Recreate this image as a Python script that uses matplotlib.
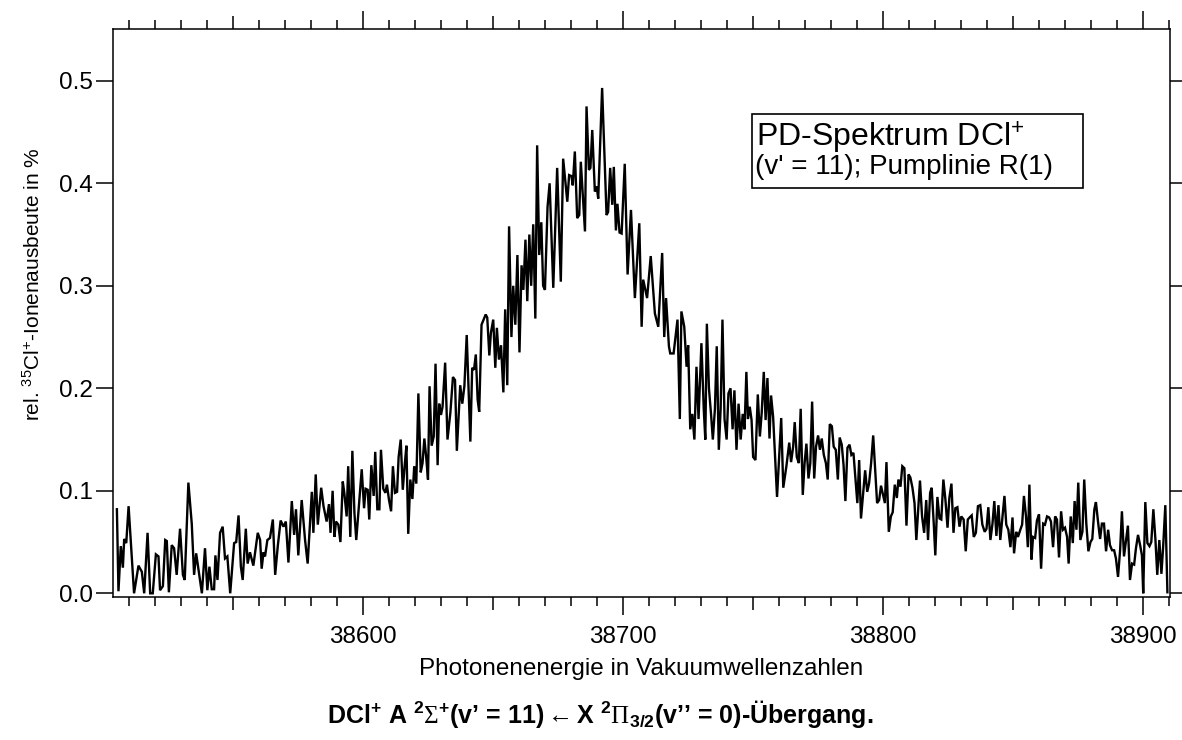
import matplotlib
matplotlib.use("Agg")
import matplotlib.pyplot as plt
from matplotlib.patches import Rectangle
from matplotlib.ticker import FixedLocator

plt.rcParams['font.family'] = ['Liberation Sans', 'DejaVu Sans']
plt.rcParams['mathtext.fontset'] = 'custom'
plt.rcParams['mathtext.rm'] = 'Liberation Sans'
plt.rcParams['mathtext.it'] = 'Liberation Sans:italic'
plt.rcParams['mathtext.bf'] = 'Liberation Sans:bold'
plt.rcParams['mathtext.sf'] = 'Liberation Serif'

# Photodissociation spectrum: (wavenumber in cm^-1, relative 35Cl+ ion yield in %)
wing_low = [
    (38505.2, 0.082), (38505.8, 0.002), (38506.7, 0.046), (38507.5, 0.025), (38508.0, 0.053),
    (38508.8, 0.049), (38509.7, 0.085), (38511.8, 0.000), (38513.5, 0.027), (38514.8, 0.021),
    (38515.7, 0.000), (38517.0, 0.059), (38518.0, 0.000), (38519.0, 0.000), (38520.2, 0.038),
    (38521.2, 0.036), (38521.8, 0.003), (38522.9, 0.007), (38523.8, 0.052), (38524.4, 0.051),
    (38525.2, 0.001), (38526.3, 0.047), (38527.2, 0.044), (38528.2, 0.018), (38529.5, 0.063),
    (38530.6, 0.018), (38531.3, 0.013), (38532.7, 0.108), (38534.0, 0.068), (38534.9, 0.018),
    (38535.7, 0.039), (38536.6, 0.023), (38537.9, 0.000), (38539.1, 0.044), (38540.0, 0.003),
    (38540.8, 0.026), (38541.7, 0.004), (38542.6, 0.004), (38543.1, 0.037), (38543.9, 0.013),
    (38544.9, 0.059), (38545.9, 0.065), (38546.8, 0.034), (38547.7, 0.036), (38548.8, 0.000),
    (38550.3, 0.049), (38551.1, 0.050), (38552.0, 0.076), (38552.9, 0.026), (38553.6, 0.013),
    (38554.8, 0.063), (38555.5, 0.029), (38556.4, 0.040), (38557.7, 0.027), (38559.4, 0.059),
    (38560.3, 0.052), (38560.9, 0.024), (38561.6, 0.040), (38562.2, 0.036), (38563.1, 0.052),
    (38564.1, 0.054), (38565.2, 0.072), (38566.1, 0.018), (38567.1, 0.046), (38568.2, 0.071),
    (38569.3, 0.065), (38570.2, 0.070), (38571.2, 0.030), (38572.5, 0.090), (38573.4, 0.057),
    (38574.1, 0.082), (38575.0, 0.037), (38576.3, 0.091), (38577.6, 0.052), (38578.6, 0.029),
    (38580.2, 0.099), (38580.8, 0.059), (38581.7, 0.116), (38582.5, 0.067), (38583.8, 0.103),
    (38584.7, 0.085), (38585.9, 0.070),
]

rise = [
    (38586.8, 0.087), (38587.4, 0.059), (38588.2, 0.100), (38588.9, 0.055), (38589.5, 0.070),
    (38590.4, 0.067), (38591.2, 0.050), (38592.1, 0.109), (38592.7, 0.098), (38593.6, 0.075),
    (38594.2, 0.124), (38595.0, 0.055), (38595.8, 0.139), (38596.6, 0.078), (38597.3, 0.052),
    (38599.4, 0.121), (38600.3, 0.083), (38600.9, 0.102), (38601.7, 0.101), (38602.3, 0.072),
    (38603.1, 0.125), (38604.0, 0.095), (38604.6, 0.138), (38605.4, 0.082), (38606.2, 0.082),
    (38606.8, 0.140), (38607.7, 0.102), (38608.5, 0.098), (38609.1, 0.106), (38609.9, 0.091),
    (38610.7, 0.080), (38611.4, 0.124), (38612.2, 0.098), (38613.0, 0.099), (38613.6, 0.133),
    (38614.4, 0.150), (38615.2, 0.101), (38615.9, 0.124), (38616.6, 0.144), (38617.3, 0.058),
    (38618.1, 0.111), (38618.9, 0.092), (38619.6, 0.124), (38620.4, 0.107), (38621.2, 0.195),
    (38622.1, 0.118), (38622.8, 0.127), (38623.5, 0.151), (38624.2, 0.133), (38624.9, 0.111),
    (38625.5, 0.202), (38626.3, 0.144), (38627.1, 0.153), (38627.8, 0.224), (38628.6, 0.125),
    (38629.2, 0.185), (38629.9, 0.174), (38630.5, 0.182), (38631.5, 0.225), (38632.4, 0.150),
    (38633.5, 0.176), (38634.5, 0.211), (38635.3, 0.208), (38636.0, 0.139), (38637.3, 0.203),
    (38638.1, 0.185), (38638.9, 0.202), (38639.8, 0.252), (38641.2, 0.148), (38641.9, 0.220),
    (38642.6, 0.218), (38643.3, 0.233), (38644.0, 0.189), (38644.6, 0.177), (38645.5, 0.262),
    (38647.1, 0.272), (38647.7, 0.269), (38648.5, 0.232), (38649.1, 0.254), (38650.0, 0.267),
    (38650.8, 0.220), (38651.4, 0.259), (38652.2, 0.228), (38653.0, 0.242), (38653.9, 0.196),
    (38654.6, 0.277), (38655.4, 0.203),
    (38656.1, 0.358), (38657.0, 0.250), (38657.7, 0.300), (38658.5, 0.262), (38659.3, 0.330),
    (38660.1, 0.235), (38660.9, 0.320), (38661.6, 0.296), (38662.4, 0.345), (38663.1, 0.285),
    (38663.9, 0.350), (38664.6, 0.300), (38665.4, 0.360), (38666.2, 0.268), (38666.9, 0.437),
    (38667.7, 0.330), (38668.5, 0.362), (38669.2, 0.300),
]

peak = [
    (38669.9, 0.296), (38670.9, 0.377), (38671.7, 0.400), (38673.1, 0.298), (38674.6, 0.415),
    (38676.0, 0.304), (38676.9, 0.424), (38678.5, 0.382), (38679.2, 0.408), (38680.1, 0.407),
    (38680.6, 0.398), (38681.4, 0.431), (38682.3, 0.366), (38683.1, 0.369), (38683.7, 0.421),
    (38685.3, 0.353), (38685.9, 0.475), (38686.8, 0.413), (38687.4, 0.415), (38688.1, 0.452),
    (38689.1, 0.392), (38689.8, 0.397), (38690.4, 0.385), (38691.9, 0.493), (38693.6, 0.369),
    (38694.2, 0.372), (38695.0, 0.415), (38695.8, 0.379), (38696.4, 0.416), (38697.2, 0.354),
    (38697.8, 0.380), (38698.6, 0.352), (38699.4, 0.351), (38700.6, 0.419), (38701.7, 0.311),
    (38703.0, 0.374), (38704.5, 0.288), (38706.2, 0.361), (38707.1, 0.260), (38707.7, 0.306),
    (38709.2, 0.288), (38710.6, 0.329), (38712.2, 0.273), (38713.5, 0.260), (38715.0, 0.332),
    (38715.8, 0.250), (38716.5, 0.288), (38717.6, 0.241), (38718.1, 0.234), (38719.4, 0.234),
    (38720.9, 0.267),
]

fall = [
    (38721.8, 0.170), (38722.4, 0.275), (38723.5, 0.260), (38724.4, 0.221), (38725.0, 0.242),
    (38725.8, 0.160), (38726.6, 0.175), (38727.4, 0.150), (38728.2, 0.221), (38729.0, 0.170),
    (38730.1, 0.244), (38731.0, 0.180), (38731.6, 0.150), (38732.2, 0.263), (38733.0, 0.200),
    (38733.8, 0.175), (38734.5, 0.150), (38735.3, 0.180), (38736.0, 0.241), (38736.8, 0.140),
    (38737.5, 0.180), (38738.2, 0.267), (38739.0, 0.170), (38739.8, 0.150), (38740.5, 0.195),
    (38741.3, 0.200), (38742.1, 0.160), (38742.8, 0.198), (38743.6, 0.140), (38744.4, 0.185),
    (38745.2, 0.150), (38746.0, 0.175), (38746.7, 0.160), (38747.4, 0.216), (38748.0, 0.170),
    (38748.7, 0.182), (38749.4, 0.169), (38750.0, 0.133), (38750.9, 0.130), (38751.8, 0.194),
    (38752.6, 0.153), (38753.3, 0.176), (38754.1, 0.216), (38754.8, 0.169), (38755.5, 0.210),
    (38756.3, 0.151), (38756.9, 0.193), (38757.7, 0.172), (38758.5, 0.130), (38759.2, 0.094),
    (38760.8, 0.171), (38761.6, 0.103), (38762.8, 0.124), (38763.9, 0.147), (38764.6, 0.128),
    (38765.4, 0.143), (38766.0, 0.167), (38766.8, 0.133), (38767.6, 0.127), (38768.3, 0.180),
    (38769.1, 0.096), (38769.8, 0.127), (38770.5, 0.146), (38771.3, 0.112), (38772.0, 0.127),
    (38772.7, 0.187), (38773.5, 0.112), (38774.2, 0.143), (38775.0, 0.154), (38775.7, 0.140),
    (38776.4, 0.151), (38777.2, 0.135), (38778.0, 0.127), (38778.7, 0.111), (38779.5, 0.165),
    (38780.3, 0.163), (38781.0, 0.143), (38781.8, 0.140), (38782.6, 0.111), (38783.3, 0.152),
    (38784.1, 0.145), (38784.8, 0.125), (38785.5, 0.090), (38786.3, 0.142), (38787.1, 0.145),
    (38787.8, 0.135), (38788.6, 0.137), (38789.4, 0.111), (38790.1, 0.088), (38790.8, 0.130),
    (38791.5, 0.073), (38792.3, 0.096), (38793.1, 0.120), (38793.9, 0.099), (38794.6, 0.107),
    (38795.4, 0.127), (38796.2, 0.154), (38796.9, 0.124), (38797.7, 0.088), (38798.5, 0.091),
    (38799.2, 0.105), (38800.0, 0.096), (38800.7, 0.088), (38801.3, 0.128), (38802.2, 0.060),
    (38803.0, 0.075), (38803.7, 0.079), (38804.5, 0.106), (38805.3, 0.093), (38805.9, 0.111),
    (38806.7, 0.104), (38807.4, 0.124), (38808.2, 0.122), (38809.0, 0.066), (38809.8, 0.116),
    (38810.5, 0.113), (38811.3, 0.103), (38812.1, 0.088), (38812.8, 0.052), (38813.5, 0.081),
    (38814.2, 0.110), (38815.0, 0.075), (38815.8, 0.059), (38816.6, 0.091), (38817.3, 0.052),
    (38818.1, 0.098), (38818.7, 0.103), (38819.5, 0.068), (38820.1, 0.037), (38820.9, 0.094),
    (38821.7, 0.073), (38822.4, 0.072), (38823.2, 0.111), (38824.0, 0.091), (38824.8, 0.064),
    (38825.5, 0.093), (38826.3, 0.107), (38827.1, 0.059), (38827.8, 0.083), (38828.6, 0.084),
    (38829.4, 0.065),
]

wing_high = [
    (38830.1, 0.075), (38831.0, 0.072), (38831.8, 0.041), (38832.6, 0.072), (38833.3, 0.074),
    (38834.1, 0.076), (38834.9, 0.055), (38835.7, 0.059), (38836.5, 0.085), (38837.4, 0.086),
    (38838.2, 0.067), (38839.1, 0.060), (38839.8, 0.063), (38840.5, 0.084), (38841.3, 0.052),
    (38842.1, 0.068), (38842.8, 0.090), (38843.6, 0.056), (38844.4, 0.086), (38845.1, 0.052),
    (38845.9, 0.074), (38846.7, 0.095), (38847.4, 0.067), (38848.2, 0.062), (38849.0, 0.045),
    (38849.8, 0.074), (38850.4, 0.039), (38851.2, 0.060), (38851.9, 0.055), (38852.8, 0.062),
    (38853.5, 0.067), (38854.2, 0.095), (38855.0, 0.075), (38855.7, 0.045), (38856.3, 0.106),
    (38857.1, 0.033), (38857.7, 0.055), (38858.5, 0.054), (38859.2, 0.071), (38860.0, 0.077),
    (38860.8, 0.024), (38861.6, 0.068), (38862.3, 0.067), (38863.1, 0.075), (38863.9, 0.074),
    (38864.6, 0.070), (38865.4, 0.045), (38866.2, 0.075), (38866.9, 0.072), (38867.7, 0.035),
    (38868.5, 0.080), (38869.2, 0.062), (38870.0, 0.064), (38870.8, 0.055), (38871.4, 0.029),
    (38872.2, 0.075), (38873.0, 0.049), (38873.7, 0.090), (38874.4, 0.062), (38875.1, 0.108),
    (38875.9, 0.052), (38876.7, 0.060), (38877.4, 0.111), (38878.2, 0.068), (38879.0, 0.041),
    (38879.8, 0.050), (38880.5, 0.053), (38881.3, 0.082), (38881.9, 0.089), (38882.7, 0.070),
    (38883.5, 0.053), (38884.2, 0.068), (38885.0, 0.068), (38885.8, 0.041), (38886.6, 0.062),
    (38887.3, 0.047), (38888.1, 0.042), (38888.9, 0.042), (38889.6, 0.034), (38890.4, 0.016),
    (38891.2, 0.042), (38891.9, 0.080), (38892.7, 0.036), (38893.5, 0.052), (38894.2, 0.066),
    (38895.0, 0.013), (38895.8, 0.029), (38896.6, 0.028), (38897.3, 0.044), (38898.1, 0.057),
    (38898.9, 0.047), (38899.6, 0.037), (38900.1, 0.000), (38900.9, 0.089), (38901.7, 0.049),
    (38902.5, 0.046), (38903.2, 0.050), (38904.0, 0.082), (38904.8, 0.052), (38905.5, 0.018),
    (38906.3, 0.052), (38907.1, 0.019), (38907.8, 0.047), (38908.6, 0.086), (38909.4, 0.001),
]

major_ticks = [38600, 38700, 38800, 38900]
half_ticks = [38550, 38650, 38750, 38850]
y_ticks = [0.0, 0.1, 0.2, 0.3, 0.4, 0.5]

points = sorted(wing_low + rise + peak + fall + wing_high)
wavenumber = [p[0] for p in points]
ion_yield = [p[1] for p in points]

fig = plt.figure(figsize=(11.82, 7.40), dpi=100)
ax = fig.add_axes([113 / 1182, 1 - 597 / 740, (1170 - 113) / 1182, (597 - 29) / 740])

ax.plot(wavenumber, ion_yield, color='black', lw=1.7, solid_joinstyle='miter')

ax.set_xlim(38503.7, 38910.4)
ax.set_ylim(-0.0036, 0.5505)

for s in ax.spines.values():
    s.set_linewidth(1.1)

ax.xaxis.set_major_locator(FixedLocator(major_ticks))
ax.xaxis.set_minor_locator(FixedLocator([v for v in range(38510, 38911, 10) if v % 50 != 0]))
ax.yaxis.set_major_locator(FixedLocator(y_ticks))
ax.yaxis.set_major_formatter(plt.FuncFormatter(lambda v, p: f"{v:.1f}"))
ax.tick_params(which='both', direction='out', top=True, right=True, width=1.1)
ax.tick_params(which='major', length=13, labelsize=17.5, pad=8)
ax.tick_params(which='minor', length=6.5)
ax.tick_params(axis='y', which='major', length=12.5, pad=2)

# intermediate ticks every 50 cm^-1 on bottom and top
for side in ('bottom', 'top'):
    sec = ax.secondary_xaxis(side)
    sec.xaxis.set_major_locator(FixedLocator(half_ticks))
    sec.tick_params(direction='out', length=9.5, width=1.1,
                    labelbottom=False, labeltop=False)
    sec.spines[side].set_visible(False)

ax.set_xlabel("Photonenenergie in Vakuumwellenzahlen", fontsize=17.5)
ax.xaxis.set_label_coords(0.5, -0.108)
ax.xaxis.label.set_va('top')

ax.set_ylabel(r"rel. $^{35}$Cl$^{+}$-Ionenausbeute in %", fontsize=15)
ax.yaxis.set_label_coords(-0.0757, 0.551)
ax.yaxis.label.set_va('center')

# annotation box
box = Rectangle((752 / 1182, 1 - 188 / 740), (1083 - 752) / 1182, (188 - 114) / 740,
                transform=fig.transFigure, fill=False, edgecolor='black', lw=1.2)
fig.add_artist(box)
fig.text(756 / 1182, 1 - 147 / 740, r"PD-Spektrum DCl$^{+}$", fontsize=23, va='baseline', ha='left')
fig.text(755 / 1182, 1 - 174 / 740, "(v' = 11); Pumplinie R(1)", fontsize=20, va='baseline', ha='left')

fig.text(600 / 1182, 1 - 714 / 740,
         r"DCl$^{\mathbf{+}}$ A $^{\mathbf{2}}\mathsf{\Sigma}^{\mathbf{+}}$(v’ = 11)"
         r"$\mathsf{\leftarrow}$X $^{\mathbf{2}}\mathsf{\Pi}_{\mathbf{3/2}}$(v’’ = 0)-Übergang.",
         fontsize=18, fontweight='bold', ha='center', va='center')

fig.savefig("out.png", dpi=100)
